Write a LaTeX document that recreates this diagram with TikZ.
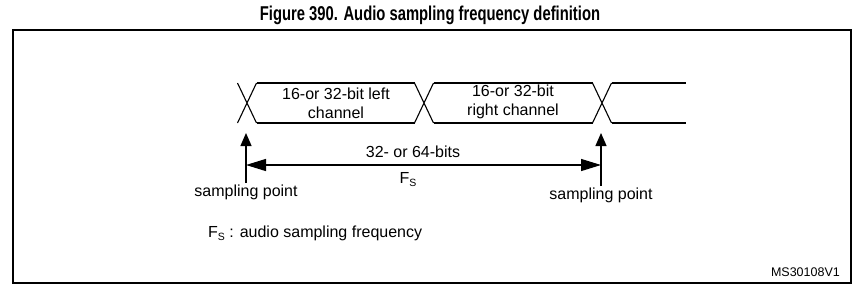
\documentclass[tikz,border=0pt]{standalone}
\usepackage{fontspec}
\setmainfont{Liberation Sans}
\usetikzlibrary{arrows.meta}
\newcommand{\subS}{{\fontsize{10.5}{10}\selectfont\raisebox{-3pt}{S}}}

\begin{document}
\begin{tikzpicture}[x=1pt,y=-1pt,
  every node/.style={font=\fontsize{16}{19}\selectfont, inner sep=0pt, align=center},
  sig/.style={line width=1.1pt},
  mark arrow/.style={line width=1.3pt, -{Triangle[length=13pt,width=11pt]}},
  span arrow/.style={line width=1.3pt, {Triangle[length=20pt,width=12pt]}-{Triangle[length=20pt,width=12pt]}}]
  \useasboundingbox (0,0) rectangle (861,290);

  \node (title) at (430,15) {\scalebox{0.74}[1]{\bfseries\fontsize{20}{22}\selectfont Figure 390. Audio sampling frequency definition}};
  \draw[line width=1.2pt] (13,30) rectangle (851,283);

  % bus slots
  \foreach \c in {247,424,602}
    \draw[sig] (\c-9.5,83) -- (\c+9.5,123) (\c-9.5,123) -- (\c+9.5,83);
  \draw[sig] (256.5,83) -- (414.5,83) (433.5,83) -- (592.5,83) (611.5,83) -- (686,83);
  \draw[sig] (256.5,123) -- (414.5,123) (433.5,123) -- (592.5,123) (611.5,123) -- (686,123);

  \node (left) at (336,103) {16-or 32-bit left\\channel};
  \node (right) at (513,102) {16-or 32-bit\\right channel};

  % sampling points
  \node[anchor=north, inner sep=2pt] (sp1) at (246,183) {sampling point};
  \node[anchor=north, inner sep=2pt] (sp2) at (601,186) {sampling point};
  \coordinate (t1) at (sp1.north |- 0,133);
  \coordinate (t2) at (sp2.north |- 0,133);
  \coordinate (s1) at (sp1.north |- 0,165);
  \coordinate (s2) at (sp2.north |- 0,165);
  \draw[mark arrow] (sp1.north) -- (t1);
  \draw[mark arrow] (sp2.north) -- (t2);
  \draw[span arrow] (s1) -- (s2);
  \node (bits) at (413,152) {32- or 64-bits};
  \node (fs) at (408,180) {F\subS};

  \node[anchor=west] (legend) at (208,233) {F\subS\ : audio sampling frequency};
  \node[anchor=east, font=\fontsize{12.5}{14}\selectfont] (id) at (840,272) {MS30108V1};
\end{tikzpicture}
\end{document}
